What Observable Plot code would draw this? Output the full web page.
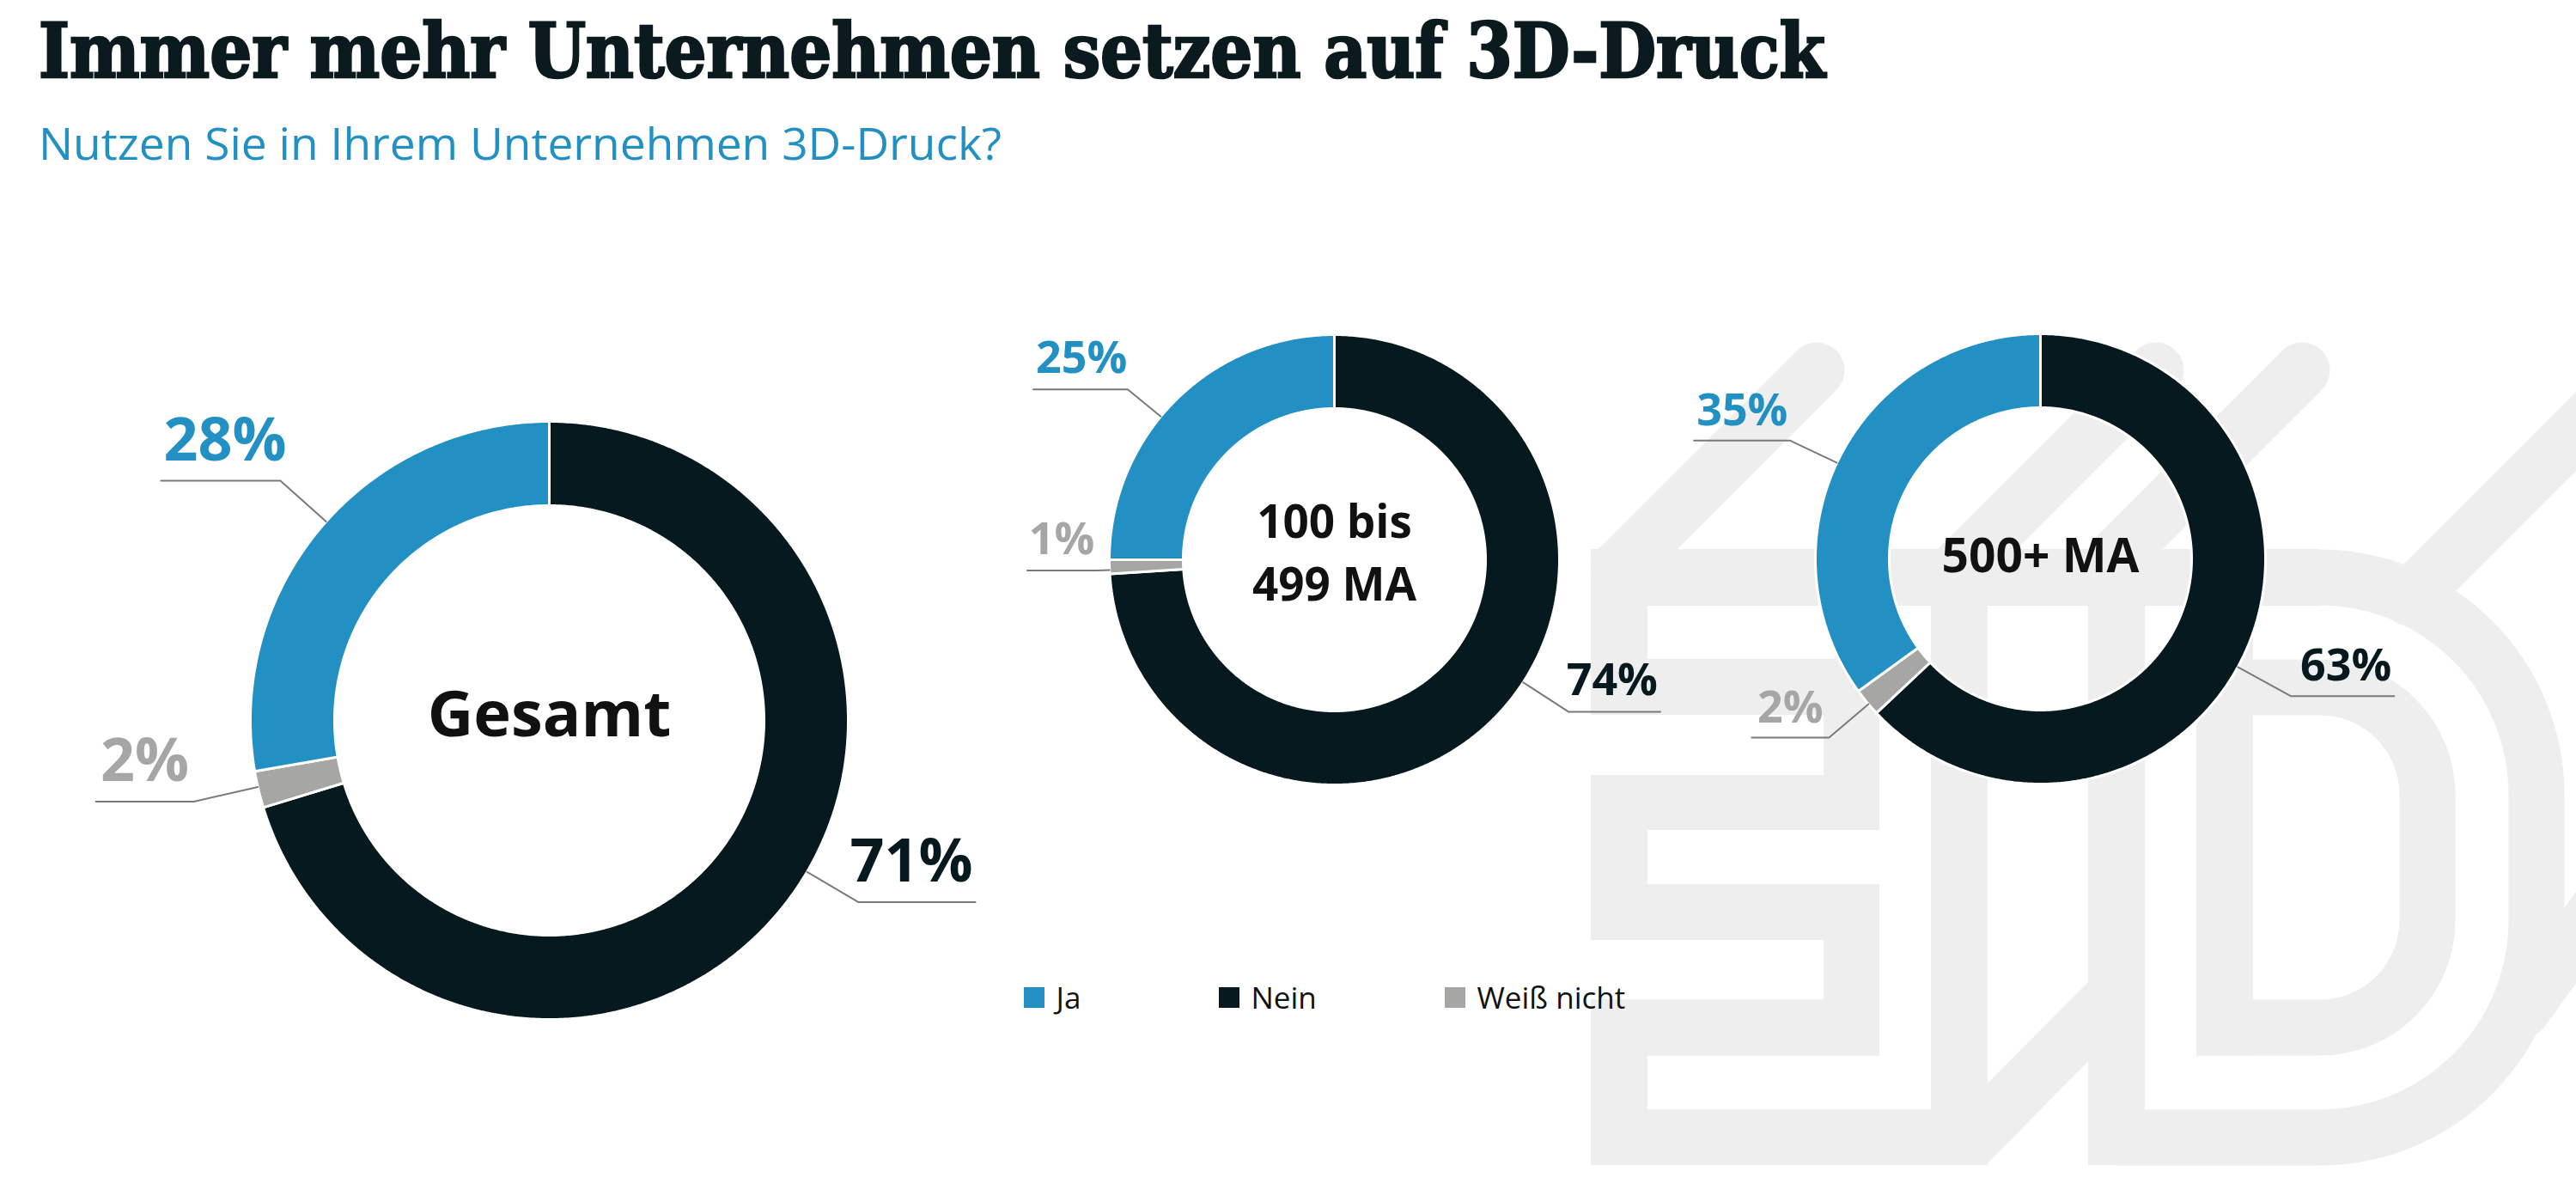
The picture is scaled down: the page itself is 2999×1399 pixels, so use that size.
<!DOCTYPE html>
<html>
<head>
<meta charset="utf-8">
<script src="https://cdn.jsdelivr.net/npm/d3@7"></script>
<script src="https://cdn.jsdelivr.net/npm/@observablehq/plot@0.6"></script>
<style>
  html, body { margin: 0; padding: 0; background: #ffffff; }
  #page { position: relative; width: 2999px; height: 1399px; overflow: hidden; background: #ffffff; }
  #header { position: relative; height: 215px; z-index: 2; }
  #title { position: absolute; left: 45px; top: 15px; font-family: "DejaVu Serif Condensed", "DejaVu Serif", serif; font-weight: bold; font-size: 88px; line-height: 88px; color: #0b1a1f; -webkit-text-stroke: 2.5px #0b1a1f; white-space: nowrap; transform-origin: 0 0; }
  #subtitle { position: absolute; left: 45px; top: 141px; font-family: "Open Sans", sans-serif; font-size: 51px; line-height: 51px; color: #2390c4; white-space: nowrap; transform-origin: 0 0; }
  #logo { position: absolute; left: 0; top: 0; z-index: 0; }
  #chart { position: relative; z-index: 1; }
</style>
</head>
<body>
<div id="page">
  <svg id="logo" width="2999" height="1399" viewBox="0 0 2999 1399">
    <g fill="#eeeeee">
      <rect x="1852" y="639" width="848" height="66"/>
      <rect x="1852" y="639" width="66" height="193"/>
      <rect x="1852" y="767" width="336" height="65"/>
      <rect x="2123" y="830" width="65" height="74"/>
      <rect x="1852" y="902" width="336" height="64"/>
      <rect x="1852" y="964" width="66" height="130"/>
      <rect x="1852" y="1029" width="336" height="65"/>
      <rect x="2123" y="1092" width="65" height="73"/>
      <rect x="1852" y="1163" width="336" height="66"/>
      <rect x="1852" y="1163" width="66" height="193"/>
      <rect x="1852" y="1291" width="462" height="65"/>
      <rect x="2248" y="639" width="66" height="717"/>
      <rect x="2431" y="639" width="66" height="717"/>
      <rect x="2557" y="705" width="66" height="524"/>
      <polygon points="2312,1263 2431,1143 2431,1235 2312,1356"/>
    </g>
    <g fill="none" stroke="#eeeeee" stroke-width="65">
      <path d="M2464 672 H2700 A253 253 0 0 1 2953 925 V1071 A253 253 0 0 1 2700 1324 H2464"/>
      <path d="M2590 800 H2701 A125 125 0 0 1 2826 925 V1071 A125 125 0 0 1 2701 1196 H2590"/>
    </g>
    <g fill="none" stroke="#eeeeee" stroke-width="65" stroke-linecap="round">
      <line x1="2115" y1="431" x2="1885" y2="661"/>
      <line x1="2510" y1="431" x2="2281" y2="660"/>
      <line x1="2680" y1="431" x2="2464" y2="647"/>
      <line x1="3070" y1="431" x2="2805" y2="696"/>
      <line x1="3060" y1="1006" x2="2938" y2="1176" stroke-width="62"/>
    </g>
  </svg>
  <div id="header">
    <div id="title">Immer mehr Unternehmen setzen auf 3D-Druck</div>
    <div id="subtitle">Nutzen Sie in Ihrem Unternehmen 3D-Druck?</div>
  </div>
  <div id="chart"></div>
</div>
<script>
// ---------- DATA ----------
const groups = ["Gesamt", "100 bis 499 MA", "500+ MA"];
const centerLabels = [["Gesamt"], ["100 bis", "499 MA"], ["500+ MA"]];
const categories = ["Ja", "Nein", "Weiß nicht"];
const jaValues = [28, 25, 35];
const neinValues = [71, 74, 63];
const weissNichtValues = [2, 1, 2];
const categoryColors = ["#2390c4", "#06191f", "#a6a7a5"];

// ---------- LAYOUT ----------
const TOP = 215, PAGE_W = 2999, PAGE_H = 1399;
const donuts = [
  {cx: 639,  cy: 838, R: 348, r: 250, labelSize: 70, labelGap: 24, centerSize: 74, centerDy: -5, lineGap: 1.2},
  {cx: 1553, cy: 651, R: 262, r: 176, labelSize: 52, labelGap: 19, centerSize: 53, centerDy: -6, lineGap: 1.37},
  {cx: 2375, cy: 650, R: 262, r: 176, labelSize: 52, labelGap: 18, centerSize: 55, centerDy: -2, lineGap: 1.2}
];
// leader settings per donut, in category order [Ja, Nein, Weiß nicht]
const leaders = [
  [{nudge: 1.6, k: 1.205, len: 139}, {nudge: -6.1, k: 1.2, len: 136}, {nudge: 0.5, k: 1.22, len: 114}],
  [{nudge: -5.5, k: 1.19, len: 110}, {nudge: -10.2, k: 1.24, len: 107}, {nudge: -0.8, k: 1.06, len: 80}],
  [{nudge: -1.7, k: 1.23, len: 112}, {nudge: 5.3, k: 1.27, len: 120}, {nudge: -0.6, k: 1.23, len: 90}]
];
const labelAlign = {"Ja": "outer", "Nein": "outer", "Weiß nicht": "middle"};
const clockwiseOrder = ["Nein", "Weiß nicht", "Ja"];
const legendX = [1192, 1419, 1682];
const legendY = 1149, legendSize = 24, legendTextDx = 37, legendFont = 35;

const series = {"Ja": jaValues, "Nein": neinValues, "Weiß nicht": weissNichtValues};

const segments = [], leaderPts = [], pctLabels = [], centers = [];
groups.forEach((g, gi) => {
  const d = donuts[gi];
  const total = d3.sum(categories, c => series[c][gi]);
  let acc = 0;
  clockwiseOrder.forEach(cat => {
    const v = series[cat][gi];
    const a0 = acc / total * 2 * Math.PI, a1 = (acc + v) / total * 2 * Math.PI;
    acc += v;
    const id = gi + "-" + cat;
    const n = Math.max(4, Math.ceil((a1 - a0) / (Math.PI / 360)));
    const pts = [];
    for (let i = 0; i <= n; i++) { const a = a0 + (a1 - a0) * i / n; pts.push([d.cx + d.R * Math.sin(a), d.cy - d.R * Math.cos(a)]); }
    for (let i = n; i >= 0; i--) { const a = a0 + (a1 - a0) * i / n; pts.push([d.cx + d.r * Math.sin(a), d.cy - d.r * Math.cos(a)]); }
    pts.push(pts[0]);
    pts.forEach(([x, y]) => segments.push({id, category: cat, x, y}));

    const L = leaders[gi][categories.indexOf(cat)];
    const am = (a0 + a1) / 2 + L.nudge * Math.PI / 180;
    const ux = Math.sin(am), uy = -Math.cos(am);
    const p0 = [d.cx + d.R * ux, d.cy + d.R * uy];
    const p1 = [d.cx + d.R * L.k * ux, d.cy + d.R * L.k * uy];
    const dir = ux < 0 ? -1 : 1;
    const p2 = [p1[0] + dir * L.len, p1[1]];
    [p0, p1, p2].forEach(([x, y]) => leaderPts.push({id, x, y}));

    let tx, anchor;
    if (labelAlign[cat] === "middle") { tx = (p1[0] + p2[0]) / 2; anchor = "middle"; }
    else if (dir < 0) { tx = p2[0] + 3; anchor = "start"; }
    else { tx = p2[0] - 3; anchor = "end"; }
    pctLabels.push({category: cat, text: v + "%", x: tx, y: p1[1] - d.labelGap, anchor, size: d.labelSize});
  });
  // one text per line of the centre label
  const lines = centerLabels[gi];
  const lh = d.centerSize * d.lineGap;
  lines.forEach((t, li) => {
    centers.push({text: t, x: d.cx, y: d.cy + d.centerDy + (li - (lines.length - 1) / 2) * lh, size: d.centerSize});
  });
});

const legendItems = categories.map((c, i) => ({category: c, x: legendX[i]}));

const labelMarks = ["start", "middle", "end"].map(anchor =>
  Plot.text(pctLabels.filter(l => l.anchor === anchor), {
    x: "x", y: "y", text: "text", fill: "category", fontSize: "size",
    fontWeight: 700, textAnchor: anchor, lineAnchor: "bottom"
  })
);

const chart = Plot.plot({
  width: PAGE_W,
  height: PAGE_H - TOP,
  margin: 0,
  x: {domain: [0, PAGE_W], range: [0, PAGE_W], axis: null},
  y: {domain: [TOP, PAGE_H], range: [0, PAGE_H - TOP], axis: null},
  color: {domain: categories, range: categoryColors},
  style: {background: "transparent", fontFamily: "'Open Sans', sans-serif"},
  marks: [
    Plot.line(segments, {x: "x", y: "y", z: "id", fill: "category", stroke: "white", strokeWidth: 3, curve: "linear", strokeLinejoin: "miter"}),
    Plot.line(leaderPts, {x: "x", y: "y", z: "id", stroke: "#7a7a7a", strokeWidth: 2, curve: "linear"}),
    ...labelMarks,
    Plot.text(centers, {x: "x", y: "y", text: "text", fontSize: "size", fontWeight: 700, fill: "#111111", lineAnchor: "middle"}),
    Plot.rect(legendItems, {x1: "x", x2: d => d.x + legendSize, y1: () => legendY, y2: () => legendY + legendSize, fill: "category"}),
    Plot.text(legendItems, {x: d => d.x + legendTextDx, y: () => legendY + legendSize, text: "category", fontSize: legendFont, fill: "#111111", textAnchor: "start", lineAnchor: "bottom"})
  ]
});
document.getElementById("chart").appendChild(chart);

function fit(id, targetWidth) {
  const el = document.getElementById(id);
  el.style.transform = "none";
  const w = el.getBoundingClientRect().width;
  if (w > 0) el.style.transform = "scaleX(" + (targetWidth / w) + ")";
}
function fitAll() { fit("title", 2080); fit("subtitle", 1121); }
fitAll();
if (document.fonts && document.fonts.ready) document.fonts.ready.then(fitAll);
</script>
</body>
</html>
